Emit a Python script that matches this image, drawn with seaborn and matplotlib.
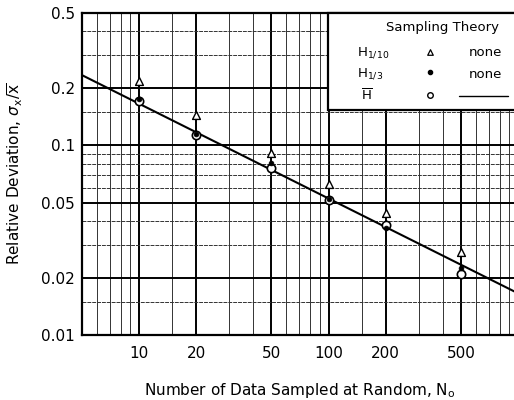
import numpy as np
import pandas as pd
import matplotlib
matplotlib.use("Agg")
import matplotlib.pyplot as plt
from matplotlib.ticker import FixedLocator, NullFormatter
from matplotlib.patches import Rectangle
import seaborn as sns

# ---- data ----
n_sampled = [10, 20, 50, 100, 200, 500]
h_tenth = [0.218, 0.145, 0.091, 0.063, 0.044, 0.0273]   # H1/10, triangles
h_third = [0.176, 0.115, 0.081, 0.052, 0.0366, 0.0225]  # H1/3, dots
h_mean = [0.172, 0.114, 0.0757, 0.0514, 0.0379, 0.021]  # H-bar, circles
theory_n = [5, 1000]
theory_v = [0.235, 0.0166]

x_ticks = [10, 20, 50, 100, 200, 500]
x_ticklabels = ["10", "20", "50", "100", "200", "500"]
y_ticks = [0.01, 0.02, 0.05, 0.1, 0.2, 0.5]
y_ticklabels = ["0.01", "0.02", "0.05", "0.1", "0.2", "0.5"]

sns.set_theme(style="white")
plt.rcParams['font.family'] = ['DejaVu Sans']
plt.rcParams['mathtext.fontset'] = 'dejavusans'

fig = plt.figure(figsize=(5.14, 4.0), dpi=100)
ax = fig.add_axes([82/514, 65/400, 436/514, 322/400])
ax.set_xscale("log")
ax.set_yscale("log")
ax.set_xlim(5, 1000)
ax.set_ylim(0.01, 0.5)

# grid
major_x = [10, 20, 50, 100, 200, 500]
minor_x = [6, 7, 8, 9, 15, 30, 40, 60, 70, 80, 90, 150, 300, 400, 600, 700, 800, 900]
major_y = [0.02, 0.05, 0.1, 0.2]
minor_y = [0.015, 0.03, 0.04, 0.06, 0.07, 0.08, 0.09, 0.15, 0.3, 0.4]
for v in major_x:
    ax.axvline(v, color="black", lw=1.4, zorder=1)
for v in minor_x:
    ax.axvline(v, color="#333333", lw=0.7, zorder=1)
for v in major_y:
    ax.axhline(v, color="black", lw=1.4, zorder=1)
for v in minor_y:
    ax.axhline(v, color="#333333", lw=0.7, zorder=1, ls=(0, (4, 1)))

df = pd.DataFrame({"N": n_sampled, "H110": h_tenth, "H13": h_third, "Hm": h_mean})
tdf = pd.DataFrame({"N": theory_n, "v": theory_v})

sns.lineplot(data=tdf, x="N", y="v", ax=ax, color="black", lw=1.5, zorder=3)
sns.scatterplot(data=df, x="N", y="H110", ax=ax, marker="^", s=32,
                facecolor="white", edgecolor="black", linewidth=1.0, zorder=4)
sns.scatterplot(data=df, x="N", y="Hm", ax=ax, marker="o", s=36,
                facecolor="white", edgecolor="black", linewidth=1.2, zorder=4)
sns.scatterplot(data=df, x="N", y="H13", ax=ax, marker="o", s=12,
                color="black", edgecolor="black", linewidth=0.5, zorder=5)

for s in ["left", "bottom", "top"]:
    ax.spines[s].set_color("black")
    ax.spines[s].set_linewidth(1.6)
ax.spines["right"].set_visible(False)

ax.xaxis.set_major_locator(FixedLocator(x_ticks))
ax.set_xticklabels(x_ticklabels)
ax.xaxis.set_minor_formatter(NullFormatter())
ax.yaxis.set_major_locator(FixedLocator(y_ticks))
ax.set_yticklabels(y_ticklabels)
ax.yaxis.set_minor_formatter(NullFormatter())
ax.tick_params(axis="both", which="both", length=0, labelsize=11, colors="black", pad=5)
ax.tick_params(axis="x", pad=8)

ax.set_xlabel("Number of Data Sampled at Random, N$_\\mathrm{o}$", fontsize=11, labelpad=14, color="black")
ax.set_ylabel("Relative Deviation, $\\sigma_\\mathrm{x}/\\overline{\\mathrm{x}}$", fontsize=11, labelpad=12, color="black")

# legend box
bx0 = (328 - 82) / 436
by0 = (335 - 110) / 322
ax.add_patch(Rectangle((bx0, by0), 1.2, 1 - by0, transform=ax.transAxes,
                       facecolor="white", edgecolor="black", lw=1.6, zorder=6, clip_on=False))
def px(x, y):
    return ((x - 82) / 436, (335 - y) / 322)
kw = dict(transform=ax.transAxes, zorder=7, color="black", fontsize=9.5)
ax.text(*px(442, 28), "Sampling Theory", ha="center", va="center", **kw)
ax.text(*px(357, 53), "H$_{1/10}$", ha="left", va="center", **kw)
ax.text(*px(357, 74), "H$_{1/3}$", ha="left", va="center", **kw)
ax.text(*px(361, 96), "$\\overline{\\mathrm{H}}$", ha="left", va="center", **kw)
ax.text(*px(485, 53), "none", ha="center", va="center", **kw)
ax.text(*px(485, 74), "none", ha="center", va="center", **kw)
ax.plot(*zip(px(459, 96), px(508, 96)), transform=ax.transAxes, color="black", lw=1.0, zorder=7, clip_on=False)
ax.scatter(*px(430, 52), transform=ax.transAxes, marker="^", s=16, facecolor="white",
           edgecolor="black", lw=0.9, zorder=7, clip_on=False)
ax.scatter(*px(430, 72), transform=ax.transAxes, marker="o", s=9, color="black", zorder=7, clip_on=False)
ax.scatter(*px(430, 95), transform=ax.transAxes, marker="o", s=16, facecolor="white",
           edgecolor="black", lw=1.0, zorder=7, clip_on=False)

fig.savefig("out.png", dpi=100)
